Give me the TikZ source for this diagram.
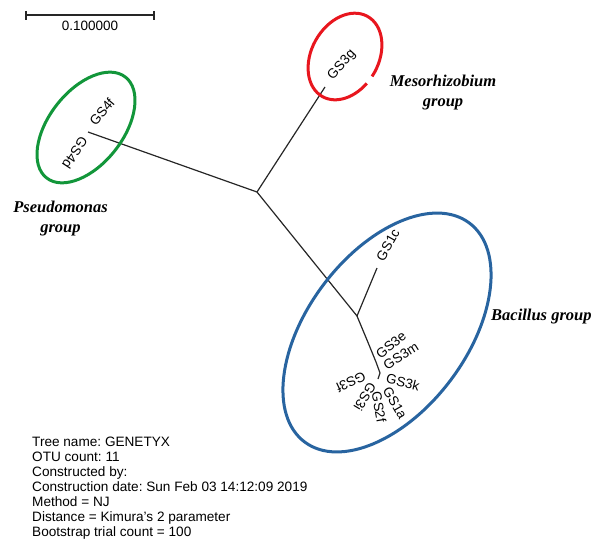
\documentclass[tikz,border=0pt]{standalone}
\usepackage{fontspec}
\setmainfont{Liberation Sans}
\newfontfamily\grpfont{Liberation Serif}
\usetikzlibrary{positioning}
\frenchspacing

\definecolor{ringgreen}{RGB}{18,150,58}
\definecolor{ringred}{RGB}{232,22,30}
\definecolor{ringblue}{RGB}{40,100,160}

\begin{document}
\begin{tikzpicture}[
  x=1pt,
  y=1pt,
  leaf/.style={
    font=\fontsize{13.5}{14}\selectfont,
    inner sep=0pt
  },
  grp/.style={
    font=\grpfont\bfseries\itshape\fontsize{16.5}{20}\selectfont,
    align=center,
    inner sep=0pt
  },
  info/.style={
    font=\fontsize{13.6}{15}\selectfont,
    align=left,
    inner sep=0pt
  },
  branch/.style={
    line width=1.2pt,
    black!85
  },
  ring/.style={
    line width=3pt
  }
]

\useasboundingbox (0,0) rectangle (594,-551);

% =========================================================
% ESCALA
% =========================================================

\coordinate (sbl) at (26,-15);
\coordinate (sbr) at (154,-15);

\draw[branch] (sbl) -- (sbr);
\draw[branch] ([yshift=4]sbl) -- ([yshift=-5]sbl);
\draw[branch] ([yshift=4]sbr) -- ([yshift=-5]sbr);

\node[leaf] (sblbl) at (90,-26) {0.100000};

% =========================================================
% NODOS INTERNOS
% =========================================================

\coordinate (root) at (257,-192);
\coordinate (meso) at (325,-87);
\coordinate (pseu) at (88,-132);
\coordinate (baci) at (357,-316);
\coordinate (gs1cend) at (377,-268);
\coordinate (hub) at (378,-379);

% --- Ramas ---

\draw[branch] (root) -- (meso);
\draw[branch] (root) -- (pseu);
\draw[branch] (root) -- (baci);
\draw[branch] (baci) -- (gs1cend);
\draw[branch]
  (baci)
  -- (367,-340)
  -- (376,-362)
  -- (380,-373)
  -- (hub);

% =========================================================
% HOJAS
% =========================================================

\node[leaf, rotate=48] (gs3g) at (342,-65) {GS3g};

\node[leaf, rotate=50] (gs4f) at (102,-112) {GS4f};
\node[leaf, rotate=237] (gs4d) at (75,-153) {GS4d};

\node[leaf, rotate=61] (gs1c) at (388,-245) {GS1c};

\node[leaf, rotate=40] (gs3e) at (391,-345) {GS3e};
\node[leaf, rotate=32] (gs3m) at (401,-356) {GS3m};
\node[leaf, rotate=-14] (gs3k) at (403,-382) {GS3k};
\node[leaf, rotate=-60] (gs1a) at (395,-403) {GS1a};
\node[leaf, rotate=-80] (gs2f) at (379,-407) {GS2f};
\node[leaf, rotate=239] (gs3i) at (365,-397) {GS3i};
\node[leaf, rotate=205] (gs3f) at (351,-382) {GS3f};

% =========================================================
% GRUPOS
% =========================================================

\draw[ring, ringgreen, rotate around={52:(86,-127.5)}]
  (86,-127.5) ellipse [x radius=64, y radius=37];

\begin{scope}[shift={(345,-56.5)}, rotate=60.5]
  \draw[ring, ringred]
    (-95:46 and 33.5)
    arc [start angle=-95, end angle=254, x radius=46, y radius=33.5];
\end{scope}

\draw[ring, ringblue, rotate around={53:(387,-332.5)}]
  (387,-332.5) ellipse [x radius=137, y radius=79.5];

\node[grp] (gmeso) at (443,-93) {Mesorhizobium\\group};
\node[grp] (gpseu) at (60.5,-219) {Pseudomonas\\group};
\node[grp, anchor=west] (gbaci) at (491,-317) {Bacillus group};

% =========================================================
% DATOS DEL ÁRBOL
% =========================================================

\node[info, anchor=north west] (data) at (32,-437)
  {Tree name: GENETYX\\
   OTU count: 11\\
   Constructed by:\\
   Construction date: Sun Feb 03 14:12:09 2019\\
   Method = NJ\\
   Distance = Kimura's 2 parameter\\
   Bootstrap trial count = 100};

\end{tikzpicture}
\end{document}
